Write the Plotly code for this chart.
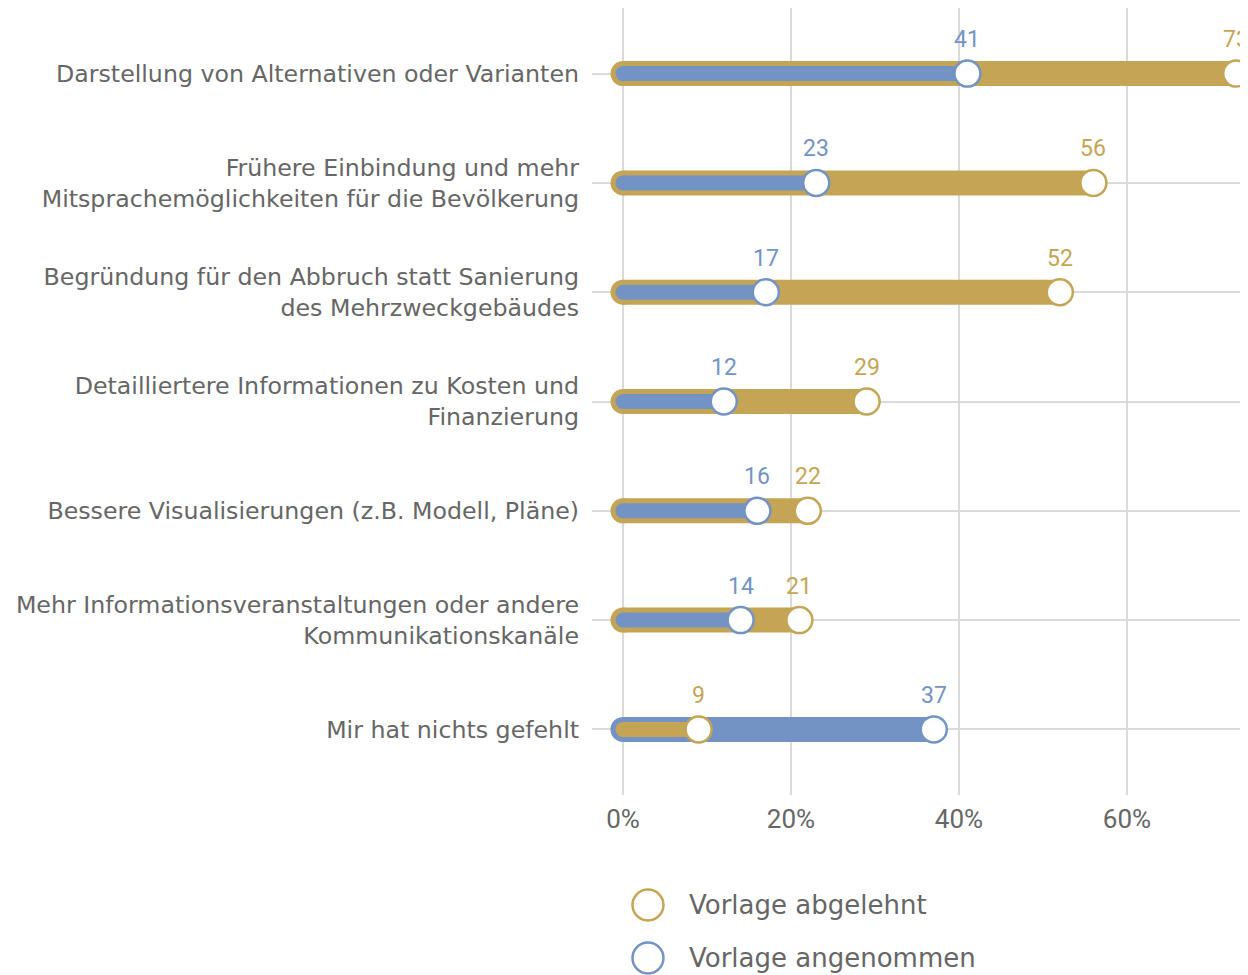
import plotly.graph_objects as go

categories = [
    "Darstellung von Alternativen oder Varianten",
    "Frühere Einbindung und mehr<br>Mitsprachemöglichkeiten für die Bevölkerung",
    "Begründung für den Abbruch statt Sanierung<br>des Mehrzweckgebäudes",
    "Detailliertere Informationen zu Kosten und<br>Finanzierung",
    "Bessere Visualisierungen (z.B. Modell, Pläne)",
    "Mehr Informationsveranstaltungen oder andere<br>Kommunikationskanäle",
    "Mir hat nichts gefehlt",
]
abgelehnt = [73, 56, 52, 29, 22, 21, 9]
angenommen = [41, 23, 17, 12, 16, 14, 37]
series_names = ["Vorlage abgelehnt", "Vorlage angenommen"]
x_ticks = [0, 20, 40, 60]
x_ticklabels = ["0%", "20%", "40%", "60%"]

GOLD = "#C4A555"
BLUE = "#7393C4"
TEXT = "#666666"
GRID = "#DADADA"

W_THICK = 25
W_THIN = 15

fig = go.Figure()
ys = list(range(len(categories)))

# bars (thick for larger value, thin for smaller)
for i, (a, b) in enumerate(zip(abgelehnt, angenommen)):
    segs = [(a, GOLD), (b, BLUE)]
    segs.sort(key=lambda s: -s[0])
    for (v, col), w in zip(segs, [W_THICK, W_THIN]):
        fig.add_trace(go.Scatter(
            x=[0, v], y=[i, i], mode="lines",
            line=dict(color=col, width=w),
            showlegend=False, hoverinfo="skip"))
        fig.add_trace(go.Scatter(
            x=[0], y=[i], mode="markers",
            marker=dict(color=col, size=w, line=dict(width=0)),
            showlegend=False, hoverinfo="skip"))

# end circles
for vals, col in [(abgelehnt, GOLD), (angenommen, BLUE)]:
    fig.add_trace(go.Scatter(
        x=vals, y=ys, mode="markers",
        marker=dict(color="white", size=26, line=dict(color=col, width=2.5)),
        cliponaxis=False, showlegend=False, hoverinfo="skip"))

# value labels
for vals, col in [(abgelehnt, GOLD), (angenommen, BLUE)]:
    for i, v in enumerate(vals):
        fig.add_annotation(
            x=v, y=i, text=str(v), showarrow=False, yshift=34,
            font=dict(family="Roboto", size=23, color=col),
            xanchor="center", yanchor="middle")

# manual legend
legend_y = [-0.1398, -0.2071]
for name, col, ly in zip(series_names, [GOLD, BLUE], legend_y):
    fig.add_shape(type="circle", xref="paper", yref="paper",
                  xsizemode="pixel", ysizemode="pixel",
                  xanchor=0.0843, yanchor=ly,
                  x0=-15.5, x1=15.5, y0=-15.5, y1=15.5,
                  line=dict(color=col, width=2.5), fillcolor="white")
    fig.add_annotation(xref="paper", yref="paper", x=0.1431, y=ly,
                       text=name, showarrow=False, xanchor="left", yanchor="middle",
                       font=dict(family="DejaVu Sans", size=26, color=TEXT))

fig.update_xaxes(
    range=[-31 / 8.4, 633 / 8.4],
    tickvals=x_ticks, ticktext=x_ticklabels,
    showgrid=True, gridcolor=GRID, gridwidth=1.5,
    zeroline=False, showline=False, ticks="",
    tickfont=dict(family="Roboto", size=26, color=TEXT),
    ticklabelstandoff=6,
)
fig.update_yaxes(
    range=[6.6, -0.6],
    tickvals=ys, ticktext=categories,
    showgrid=True, gridcolor=GRID, gridwidth=1.5,
    zeroline=False, showline=False, ticks="",
    tickfont=dict(family="DejaVu Sans", size=23.7, color=TEXT),
    ticklabelstandoff=12,
)
fig.update_layout(
    width=1248, height=975,
    margin=dict(l=584, r=0, t=0, b=188),
    plot_bgcolor="white", paper_bgcolor="white",
    showlegend=False,
)
fig.write_html("out.html")
